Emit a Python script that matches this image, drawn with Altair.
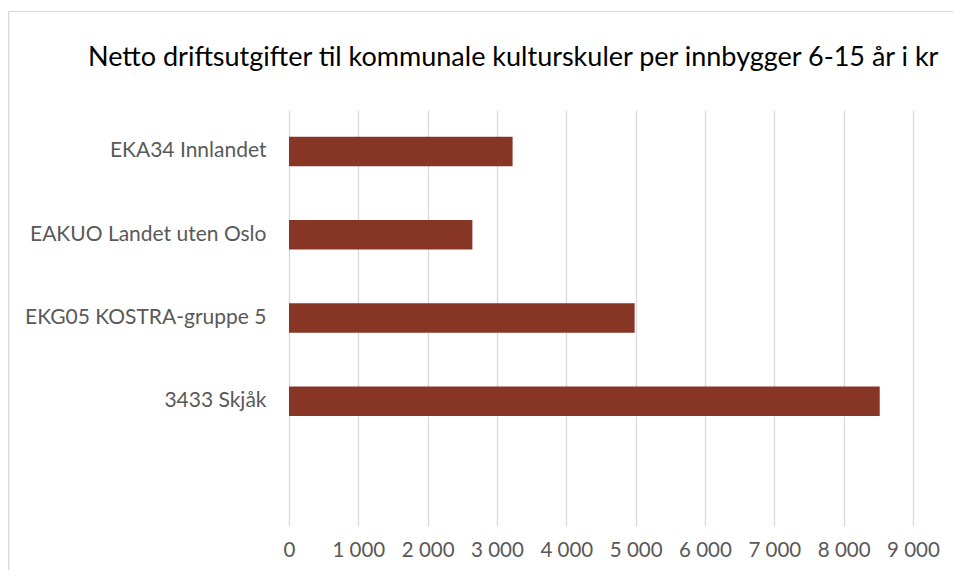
import altair as alt
import pandas as pd

categories = ["EKA34 Innlandet", "EAKUO Landet uten Oslo", "EKG05 KOSTRA-gruppe 5", "3433 Skjåk"]
values = [3225, 2645, 4985, 8520]
x_ticks = [0, 1000, 2000, 3000, 4000, 5000, 6000, 7000, 8000, 9000]
title_text = "Netto driftsutgifter til kommunale kulturskuler per innbygger 6-15 år i kr"

df = pd.DataFrame({"kategori": categories, "verdi": values})
y_domain = categories + [" "]

FONT = "Lato"
TXT = "#595959"

bars = alt.Chart(df).mark_bar(color="#873626").encode(
    x=alt.X(
        "verdi:Q",
        scale=alt.Scale(domain=[0, 9000], nice=False, zero=True),
        axis=alt.Axis(
            values=x_ticks,
            title=None,
            grid=True,
            gridColor="#d9d9d9",
            gridWidth=1.3,
            domain=False,
            ticks=False,
            labelFont=FONT,
            labelFontSize=20.5,
            labelColor=TXT,
            labelPadding=14,
            labelOverlap=False,
            labelFlush=False,
            labelExpr="datum.value >= 1000 ? floor(datum.value/1000) + ' 000' : '' + datum.value",
        ),
    ),
    y=alt.Y(
        "kategori:N",
        scale=alt.Scale(domain=y_domain, paddingInner=0.645, paddingOuter=0.32),
        axis=alt.Axis(
            title=None,
            domain=False,
            ticks=False,
            grid=False,
            labelFont=FONT,
            labelFontSize=21,
            labelColor=TXT,
            labelPadding=23,
            labelLimit=400,
        ),
    ),
)

border = alt.Chart(df).mark_rect(
    fill=None, stroke="#d9d9d9", strokeWidth=1.2
).encode(
    x=alt.value(-280.5),
    x2=alt.value(700),
    y=alt.value(-98.5),
    y2=alt.value(500),
)

chart = alt.layer(border, bars).properties(
    width=624,
    height=416,
    padding={"left": 281, "top": 102, "right": 40, "bottom": 44},
    autosize=alt.AutoSizeParams(type="none"),
    title=alt.TitleParams(
        text=title_text,
        font=FONT,
        fontSize=27,
        fontWeight="normal",
        color="#000000",
        anchor="start",
        frame="group",
        dx=-201,
        baseline="alphabetic",
        offset=-82,
    ),
).configure_view(stroke=None)

chart.save("out.html", embed_options={"renderer": "svg", "actions": False})
